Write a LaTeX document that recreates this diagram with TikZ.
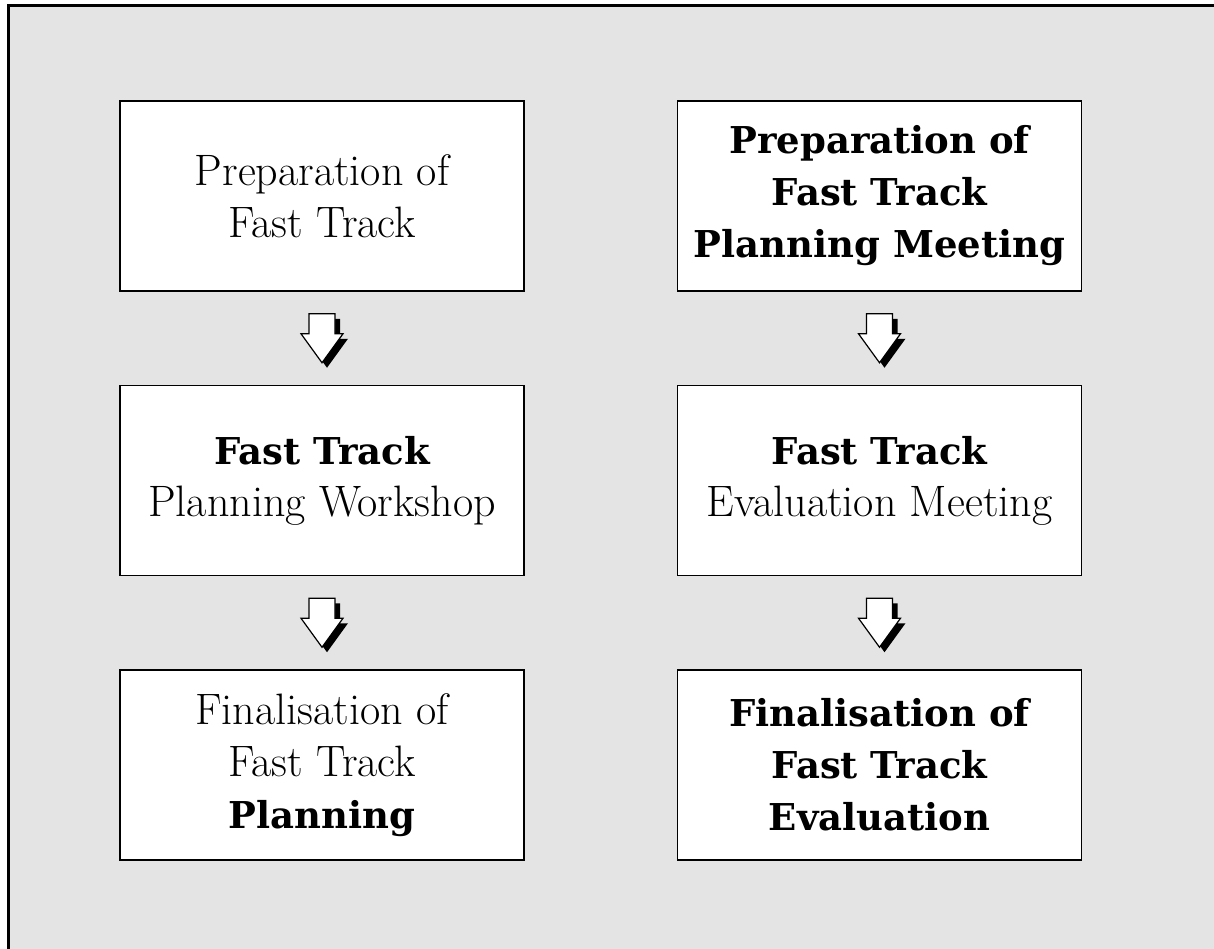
\documentclass[tikz,border=0pt]{standalone}
\usepackage{fontspec}
\newfontfamily\heavyfont{DejaVu Serif}
\usetikzlibrary{positioning}
\usetikzlibrary{calc}
\definecolor{panelGray}{HTML}{E4E4E4}
\tikzset{
   stageBox/.style={draw=black, line width=1.5pt, fill=white, minimum width=404pt, minimum height=190pt, inner sep=0pt, align=center, font=\fontsize{44}{52}\selectfont},
   stepArrow/.pic={
      \fill[black, shift={(5,5)}] (-13,-24.5) -- (13,-24.5) -- (13,-4.5) -- (21,-4.5) -- (0,24.5) -- (-21,-4.5) -- (-13,-4.5) -- cycle;
      \draw[fill=white, line width=1.2pt] (-13,-24.5) -- (13,-24.5) -- (13,-4.5) -- (21,-4.5) -- (0,24.5) -- (-21,-4.5) -- (-13,-4.5) -- cycle;
   },
}
\newcommand{\heavy}[1]{{\heavyfont\bfseries\fontsize{37}{52}\selectfont #1}}

\begin{document}
\begin{tikzpicture}[x=1pt, y=-1pt, node distance=93pt and 152pt]
  \useasboundingbox (0,0) rectangle (1214,949);
  %
  \fill[panelGray] (8,6) rectangle (1214,949);
  \draw[line width=3pt] (8,949) -- (8,6) -- (1214,6);
  %
  \node[stageBox] (prepTrack) at (322,196) {Preparation of\\Fast Track};
  \node[stageBox, below=of prepTrack] (workshop) {\heavy{Fast Track}\\Planning Workshop};
  \node[stageBox, below=of workshop] (finalPlanning) {Finalisation of\\Fast Track\\\heavy{Planning}};
  %
  \node[stageBox, right=of prepTrack] (prepMeeting) {\heavy{Preparation of}\\\heavy{Fast Track}\\\heavy{Planning Meeting}};
  \node[stageBox, below=of prepMeeting] (evalMeeting) {\heavy{Fast Track}\\Evaluation Meeting};
  \node[stageBox, below=of evalMeeting] (finalEval) {\heavy{Finalisation of}\\\heavy{Fast Track}\\\heavy{Evaluation}};
  %
  % arrows between the stages
  \coordinate (arrowA) at ($(prepTrack.south)!0.5!(workshop.north)$);
  \coordinate (arrowB) at ($(workshop.south)!0.5!(finalPlanning.north)$);
  \coordinate (arrowC) at ($(prepMeeting.south)!0.5!(evalMeeting.north)$);
  \coordinate (arrowD) at ($(evalMeeting.south)!0.5!(finalEval.north)$);
  \pic at (arrowA) {stepArrow};
  \pic at (arrowB) {stepArrow};
  \pic at (arrowC) {stepArrow};
  \pic at (arrowD) {stepArrow};
\end{tikzpicture}
\end{document}
